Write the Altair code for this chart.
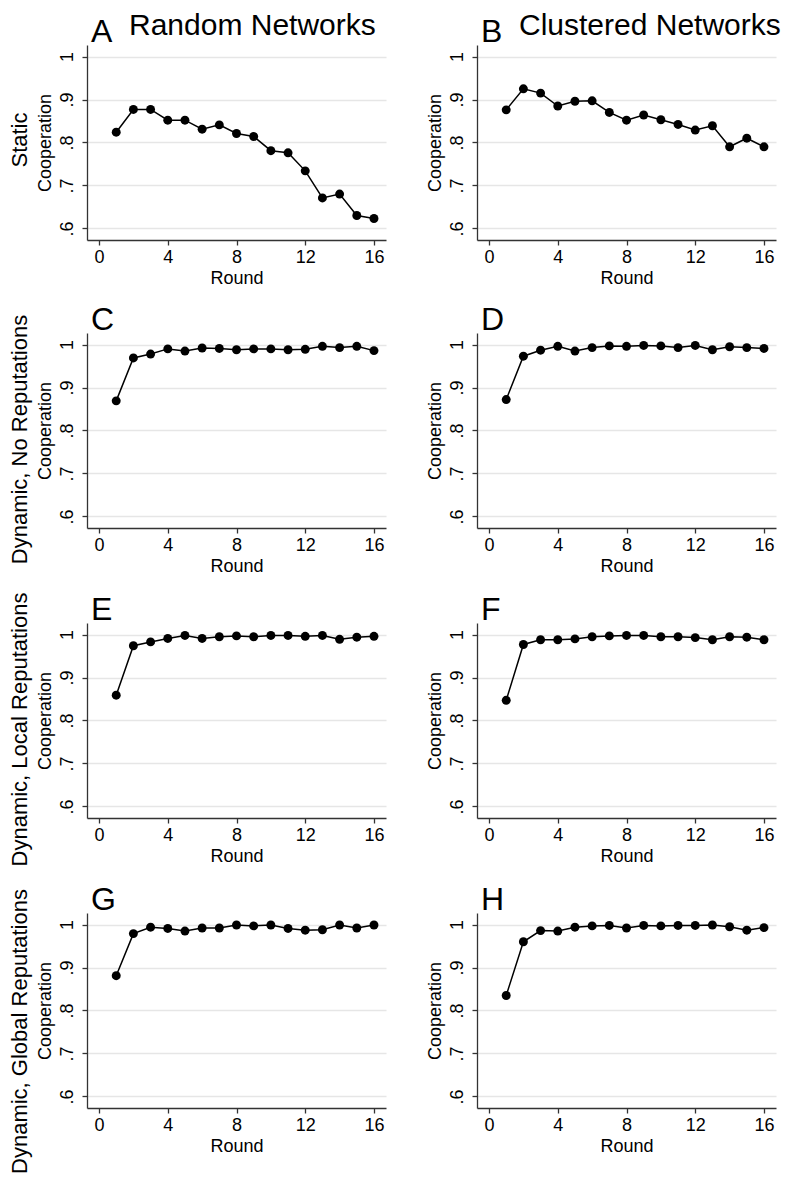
import altair as alt
import pandas as pd

rounds = list(range(1, 17))
coop_A = [0.824, 0.877, 0.877, 0.852, 0.852, 0.831, 0.841, 0.821, 0.814, 0.781, 0.776, 0.734, 0.671, 0.680, 0.630, 0.623]
coop_B = [0.876, 0.925, 0.915, 0.885, 0.896, 0.897, 0.870, 0.852, 0.864, 0.853, 0.842, 0.829, 0.839, 0.790, 0.810, 0.790]
coop_C = [0.869, 0.969, 0.978, 0.990, 0.985, 0.992, 0.991, 0.988, 0.990, 0.990, 0.988, 0.989, 0.996, 0.993, 0.996, 0.986]
coop_D = [0.872, 0.973, 0.987, 0.996, 0.985, 0.993, 0.997, 0.996, 0.998, 0.997, 0.993, 0.998, 0.988, 0.995, 0.993, 0.991]
coop_E = [0.859, 0.974, 0.983, 0.991, 0.998, 0.991, 0.995, 0.997, 0.995, 0.998, 0.998, 0.996, 0.998, 0.989, 0.994, 0.996]
coop_F = [0.847, 0.977, 0.988, 0.988, 0.990, 0.995, 0.997, 0.998, 0.998, 0.995, 0.995, 0.993, 0.988, 0.995, 0.994, 0.988]
coop_G = [0.881, 0.979, 0.994, 0.991, 0.985, 0.992, 0.992, 0.999, 0.997, 0.999, 0.991, 0.987, 0.988, 0.999, 0.992, 0.999]
coop_H = [0.835, 0.960, 0.986, 0.985, 0.994, 0.997, 0.998, 0.992, 0.998, 0.997, 0.998, 0.998, 0.999, 0.995, 0.987, 0.993]

row_labels = ["Static", "Dynamic, No Reputations", "Dynamic, Local Reputations", "Dynamic, Global Reputations"]
col_labels = ["Random Networks", "Clustered Networks"]
letters = [["A", "B"], ["C", "D"], ["E", "F"], ["G", "H"]]
series = [[coop_A, coop_B], [coop_C, coop_D], [coop_E, coop_F], [coop_G, coop_H]]
x_ticks = [0, 4, 8, 12, 16]
y_ticks = [0.6, 0.7, 0.8, 0.9, 1.0]

FONT = "Liberation Sans"
row_label_shift = [9, 0, 0, -12]


def panel(vals, letter):
    df = pd.DataFrame({"Round": rounds, "Cooperation": vals})
    base = alt.Chart(df).encode(
        x=alt.X("Round:Q",
                scale=alt.Scale(domain=[-0.7, 16.7], nice=False, zero=False),
                axis=alt.Axis(values=x_ticks, title="Round", grid=False,
                              labelPadding=3, titlePadding=3)),
        y=alt.Y("Cooperation:Q",
                scale=alt.Scale(domain=[0.573, 1.027], nice=False, zero=False),
                axis=alt.Axis(values=y_ticks, title="Cooperation", grid=True,
                              labelAngle=270, labelPadding=6, titlePadding=4,
                              labelExpr="datum.value >= 0.999 ? '1' : '.' + round(datum.value * 10)")),
    )
    line = base.mark_line(color="black", strokeWidth=1.5)
    pts = base.mark_circle(color="black", opacity=1, size=80)
    return alt.layer(line, pts).properties(
        width=299, height=195,
        title=alt.TitleParams(letter, anchor="start", frame="group", dx=4, offset=-29,
                              baseline="alphabetic", fontSize=32, font=FONT,
                              fontWeight="normal", color="black"),
    )


rows = []
for r in range(4):
    cells = []
    for c in range(2):
        p = panel(series[r][c], letters[r][c])
        if r == 0:
            p = alt.vconcat(p).properties(
                title=alt.TitleParams(col_labels[c], anchor="start", dx=93, offset=-49,
                                      baseline="alphabetic", fontSize=30, font=FONT,
                                      fontWeight="normal", color="black"))
        cells.append(p)
    row = alt.hconcat(*cells, spacing=39).properties(
        title=alt.TitleParams(row_labels[r], orient="left", anchor="middle", offset=4,
                              dx=row_label_shift[r],
                              fontSize=22, font=FONT, fontWeight="normal", color="black"))
    rows.append(row)

chart = alt.vconcat(*rows, spacing=17).properties(
    padding={"left": 0, "top": 3, "right": 0, "bottom": 0}
).configure_view(stroke=None).configure_axis(
    labelFont=FONT, titleFont=FONT, labelFontSize=18, titleFontSize=18,
    labelColor="black", titleColor="black", titleFontWeight="normal",
    domainColor="#333333", tickColor="#333333", domainWidth=1.3, tickWidth=1.3,
    tickSize=5, gridColor="#e6e6e6", gridWidth=1.5,
).configure_concat(spacing=17)

chart.save("out.html", embed_options={"renderer": "svg", "actions": False})
